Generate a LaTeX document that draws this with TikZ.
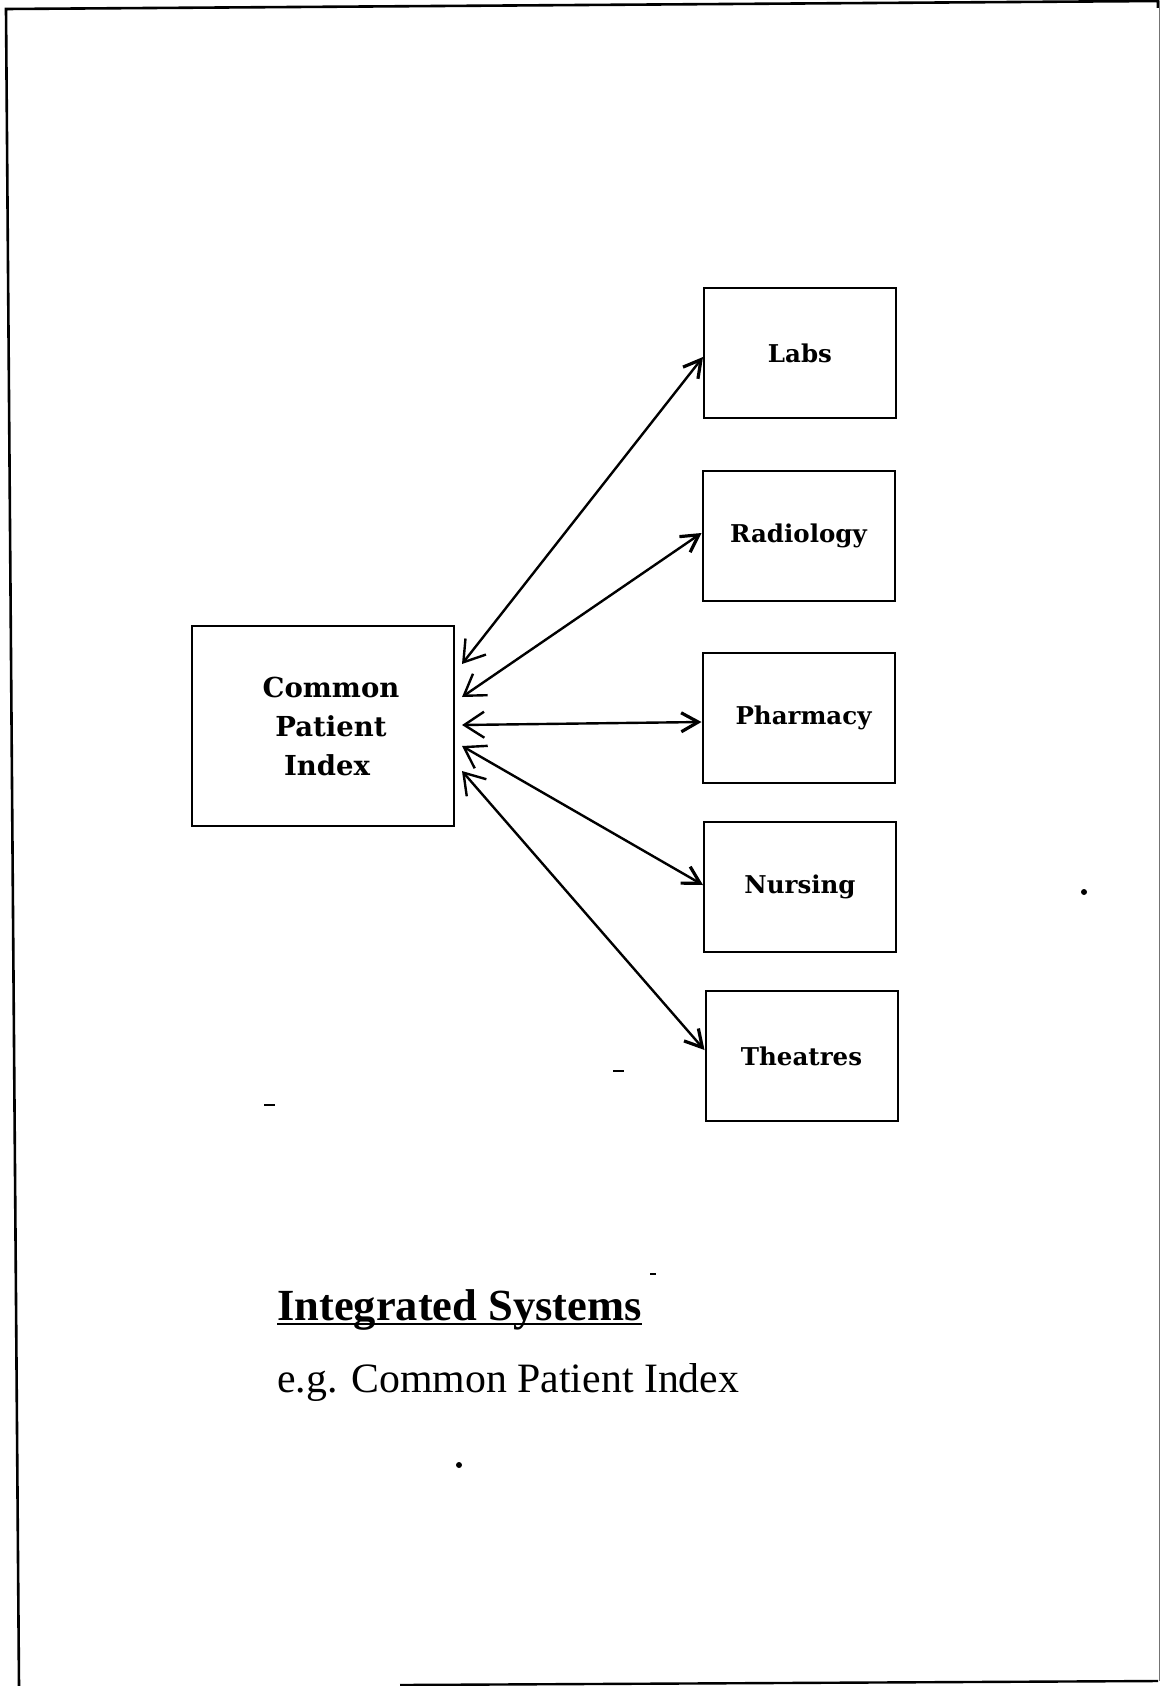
\documentclass[tikz,border=0pt]{standalone}
\usepackage{fontspec}
\setmainfont{Liberation Serif}
\newfontfamily\boxfont{DejaVu Serif}
\usetikzlibrary{arrows.meta}
\begin{document}
\begin{tikzpicture}[x=1pt,y=-1pt,
  sysbox/.style={draw, line width=2pt, rectangle, inner sep=0pt,
    minimum width=192pt, minimum height=130pt,
    font=\boxfont\bfseries\fontsize{24.5}{28}\selectfont},
  link/.style={line width=2.4pt,
    {Straight Barb[length=20pt,width=26pt]}-{Straight Barb[length=17pt,width=19pt,line width=3.2pt]}},
  speck/.style={fill=black, draw=none}]
\useasboundingbox (0,0) rectangle (1160,1686);

% page frame
\draw[line width=2.6pt, line join=miter] (19,1686) -- (6,9) -- (1158,1) -- (1158,8);
\draw[line width=0.8pt, black!55] (1159,1) -- (1159,1681);
\draw[line width=2.4pt] (400,1685) -- (1158,1681);

% central index
\node[draw, line width=2pt, rectangle, inner sep=0pt,
      minimum width=262pt, minimum height=200pt, align=center,
      font=\boxfont\bfseries\fontsize{27.5}{39}\selectfont] (cpi) at (323,726)
  {\hspace*{16pt}Common\\\hspace*{16pt}Patient\\\hspace*{8pt}Index};

% departmental systems
\node[sysbox] (labs)  at (800,353)    {Labs};
\node[sysbox] (rad)   at (798.5,536)  {Radiology};
\node[sysbox] (pharm) at (798.5,718)  {\hspace*{10pt}Pharmacy};
\node[sysbox] (nurs)  at (800,887)    {Nursing};
\node[sysbox] (theat) at (801.5,1056) {Theatres};

% two-way links
\draw[link] ([xshift=7pt,yshift=62pt]cpi.east)  -- ([yshift=-4pt]labs.west);
\draw[link] ([xshift=7pt,yshift=29pt]cpi.east)  -- ([yshift=3pt]rad.west);
\draw[link] ([xshift=7pt,yshift=1pt]cpi.east)   -- ([yshift=-4pt]pharm.west);
\draw[link] ([xshift=7pt,yshift=-20pt]cpi.east) -- ([yshift=2pt]nurs.west);
\draw[link] ([xshift=7pt,yshift=-45pt]cpi.east) -- ([yshift=6pt]theat.west);

% caption
\node[anchor=base west, inner sep=0pt, font=\bfseries\fontsize{44.5}{50}\selectfont] (title) at (277,1320) {Integrated Systems};
\draw[line width=2.4pt] ([yshift=-4pt]title.base west) -- ([yshift=-4pt]title.base east);
\node[anchor=base west, inner sep=0pt, font=\fontsize{41.8}{50}\selectfont] (sub) at (277,1392) {e.g. Common Patient Index};

% specks
\fill[speck] (1084,892) circle (3pt);
\fill[speck] (459,1465) circle (3pt);
\fill[speck] (613,1070) rectangle (624,1072);
\fill[speck] (264,1104) rectangle (275,1106);
\fill[speck] (650,1273) rectangle (656,1275);
\end{tikzpicture}
\end{document}
